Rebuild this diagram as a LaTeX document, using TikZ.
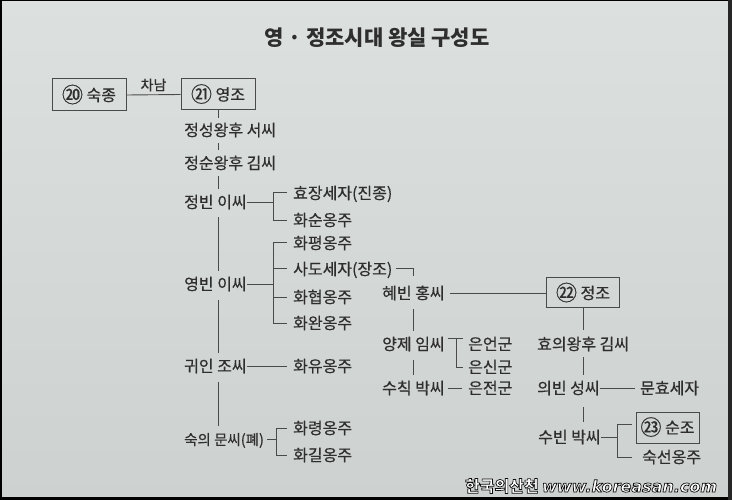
\documentclass[tikz,border=0pt]{standalone}
\usepackage{fontspec}
\newfontfamily\kr{Noto Sans CJK KR}[FakeBold=0.5]
\newfontfamily\krb{Noto Sans CJK KR}
\newfontfamily\wmfont{DejaVu Sans}
\usetikzlibrary{calc}
\definecolor{bgtop}{HTML}{DCE0DE}
\definecolor{bgbot}{HTML}{CDD1CF}
\definecolor{ink}{HTML}{2E2E2E}
\definecolor{lnc}{HTML}{4A4A4A}
\newcommand\circnum[1]{{\fontsize{21}{21}\selectfont\raisebox{-1.5pt}{#1}}}
\newcommand\outlinetext[1]{\special{pdf:literal direct 2 Tr 0.7 w 0.05 0.05 0.05 RG}#1\special{pdf:literal direct 0 Tr 1 w}}
\begin{document}
\begin{tikzpicture}[x=1pt,y=-1pt,
  lbl/.style={font=\kr\fontsize{16}{16}\selectfont, text=ink, inner sep=0pt, text height=13pt, text depth=1pt, anchor=west},
  kbox/.style={draw=lnc, line width=1pt, font=\kr\fontsize{16}{16}\selectfont, text=ink, inner sep=0pt, text height=13pt, text depth=1pt},
  ln/.style={draw=lnc, line width=0.9pt},
  vln/.style={ln, shorten <=6pt, shorten >=6pt},
  wm/.style={inner sep=0pt, anchor=west}]
% background and frame
\shade[top color=bgtop, bottom color=bgbot] (0,0) rectangle (732,500);
\fill[black] (0,0) rectangle (732,1.5);
\fill[black] (0,0) rectangle (1.5,500);
\fill[black] (0,497) rectangle (732,500);
\fill[black!85] (728,0) rectangle (732,500);
\useasboundingbox (0,0) rectangle (732,500);
% title
\node[text=ink, inner sep=0pt] (title) at (377,38) {\krb\bfseries\fontsize{21}{21}\selectfont 영 · 정조시대 왕실 구성도};
% boxes
\node[kbox, minimum width=74pt, minimum height=32pt] (sukjong) at (89,95) {\circnum{⑳} 숙종};
\node[kbox, minimum width=74pt, minimum height=31pt] (yeongjo) at (218,94.5) {\circnum{㉑} 영조};
\node[kbox, minimum width=73pt, minimum height=30pt] (jeongjo) at (583,293) {\circnum{㉒} 정조};
\node[kbox, minimum width=63pt, minimum height=31pt] (sunjo) at (667.5,427.5) {\circnum{㉓} 순조};
% left column
\node[lbl] (jseong) at (184,130) {정성왕후 서씨};
\node[lbl] (jsun) at (184,163) {정순왕후 김씨};
\node[lbl] (jbin) at (184,202) {정빈 이씨};
\node[lbl] (ybin) at (184,284) {영빈 이씨};
\node[lbl] (gwin) at (184,366) {귀인 조씨};
\node[lbl, font=\kr\fontsize{14.5}{14.5}\selectfont] (sugui) at (184,439) {숙의 문씨(폐)};
% children
\node[lbl] (hyojang) at (293,193) {효장세자(진종)};
\node[lbl] (hwasun) at (293,220) {화순옹주};
\node[lbl] (hwapyeong) at (293,243) {화평옹주};
\node[lbl] (sado) at (293,269) {사도세자(장조)};
\node[lbl] (hwahyeop) at (293,297) {화협옹주};
\node[lbl] (hwawan) at (293,323) {화완옹주};
\node[lbl] (hwayu) at (293,366) {화유옹주};
\node[lbl] (hwaryeong) at (293,428) {화령옹주};
\node[lbl] (hwagil) at (293,455) {화길옹주};
% middle column
\node[lbl] (hyebin) at (382,293) {혜빈 홍씨};
\node[lbl] (yangje) at (382,344) {양제 임씨};
\node[lbl] (suchik) at (382,388) {수칙 박씨};
\node[lbl] (euneon) at (468,344) {은언군};
\node[lbl] (eunsin) at (468,367) {은신군};
\node[lbl] (eunjeon) at (468,388) {은전군};
% right column
\node[lbl] (hyoui) at (537,344) {효의왕후 김씨};
\node[lbl] (uibin) at (537,388) {의빈 성씨};
\node[lbl] (munhyo) at (640,388) {문효세자};
\node[lbl] (subin) at (538,437) {수빈 박씨};
\node[lbl] (sukseon) at (642,457) {숙선옹주};
% bracket coordinates
\coordinate (brA) at (273,0);
\coordinate (brB) at (276,0);
\coordinate (brS) at (617,0);
% connectors
\draw[ln] (sukjong.east) -- (yeongjo.west) node[midway, above=3pt, inner sep=0pt, text=ink, font=\kr\fontsize{14}{14}\selectfont] (chanam) {차남};
\draw[ln, shorten >=5pt] (yeongjo.south) -- (yeongjo.south |- jseong.north);
\draw[vln] (yeongjo.south |- jseong.south) -- (yeongjo.south |- jsun.north);
\draw[vln] (yeongjo.south |- jsun.south) -- (yeongjo.south |- jbin.north);
\draw[vln, shorten <=8pt] (yeongjo.south |- jbin.south) -- (yeongjo.south |- ybin.north);
\draw[vln, shorten <=9pt] (yeongjo.south |- ybin.south) -- (yeongjo.south |- gwin.north);
\draw[vln, shorten <=9pt] (yeongjo.south |- gwin.south) -- (yeongjo.south |- sugui.north);
% jbin bracket
\draw[ln] (jbin.east) -- (jbin.east -| brA);
\draw[ln] ([xshift=-6pt,yshift=1pt]hyojang.west) -- ([yshift=1pt]hyojang.west -| brA) -- (hwasun.west -| brA) -- ([xshift=-6pt]hwasun.west);
% ybin bracket
\draw[ln] (ybin.east) -- (ybin.east -| brA);
\draw[ln] ([xshift=-6pt,yshift=1pt]hwapyeong.west) -- ([yshift=1pt]hwapyeong.west -| brA) -- (hwawan.west -| brA) -- ([xshift=-6pt]hwawan.west);
\draw[ln] ([xshift=-6pt,yshift=1pt]sado.west) -- ([yshift=1pt]sado.west -| brA);
\draw[ln] ([xshift=-6pt]hwahyeop.west) -- (hwahyeop.west -| brA);
% gwin
\draw[ln] (gwin.east) -- ([xshift=-6pt]hwayu.west);
% sugui bracket
\draw[ln] ([xshift=3pt]sugui.east) -- (sugui.east -| brB);
\draw[ln] ([xshift=-6pt]hwaryeong.west) -- (hwaryeong.west -| brB) -- (hwagil.west -| brB) -- ([xshift=-6pt]hwagil.west);
% sado to hyebin to jeongjo
\draw[ln, shorten >=10pt] ([xshift=3pt,yshift=1pt]sado.east) -| (hyebin.north);
\draw[ln] ([xshift=5pt]hyebin.east) -- (jeongjo.west);
\draw[vln, shorten <=9pt] (hyebin.south) -- (hyebin.south |- yangje.north);
\draw[vln, shorten <=9pt] (hyebin.south |- yangje.south) -- (hyebin.south |- suchik.north);
% yangje
\draw[ln] ([xshift=3pt,yshift=6pt]yangje.east) -- ([xshift=-5pt,yshift=6pt]euneon.west);
\draw[ln] ([xshift=-12pt,yshift=6pt]euneon.west) |- ([xshift=-5pt]eunsin.west);
\draw[ln] ([xshift=3pt]suchik.east) -- ([xshift=-6pt]eunjeon.west);
% jeongjo line
\draw[ln, shorten >=7pt] (jeongjo.south) -- (jeongjo.south |- hyoui.north);
\draw[vln] (jeongjo.south |- hyoui.south) -- (jeongjo.south |- uibin.north);
\draw[vln, shorten <=12pt, shorten >=8pt] (jeongjo.south |- uibin.south) -- (jeongjo.south |- subin.north);
\draw[ln] (uibin.east) -- ([xshift=-5pt]munhyo.west);
% subin bracket
\draw[ln] (subin.east) -- (subin.east -| brS);
\draw[ln] ([xshift=-4pt,yshift=3.5pt]sunjo.west) -- ([yshift=3.5pt]sunjo.west -| brS) -- (sukseon.west -| brS) -- ([xshift=-10pt]sukseon.west);
% watermark
\node[wm, text=white] (wmk) at (465,486) {\outlinetext{{\krb\bfseries\fontsize{16}{16}\selectfont 한국의산천} {\wmfont\bfseries\itshape\fontsize{16}{16}\selectfont www.koreasan.com}}};
\end{tikzpicture}
\end{document}
